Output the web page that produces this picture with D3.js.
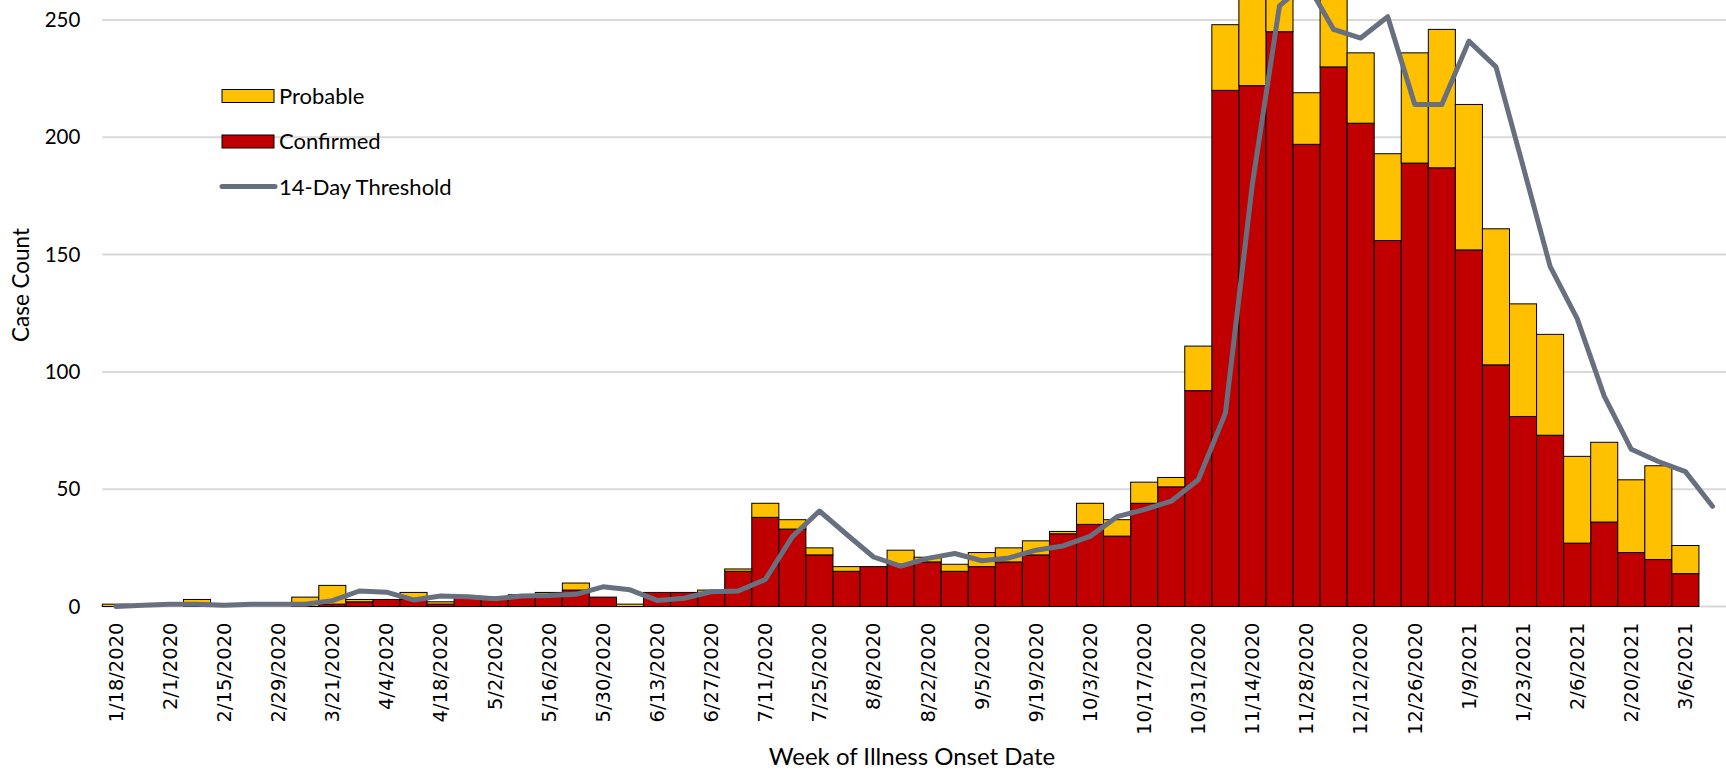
<!DOCTYPE html>
<html>
<head>
<meta charset="utf-8">
<script src="https://cdn.jsdelivr.net/npm/d3@7"></script>
<style>
  body { margin: 0; background: #fff; }
  .tick text { fill: #000; }
</style>
</head>
<body>
<div id="chart-container"></div>
<script>
/** DATA */
const weeks = ["1/18/2020", "1/25/2020", "2/1/2020", "2/8/2020", "2/15/2020", "2/22/2020", "2/29/2020", "3/14/2020",
  "3/21/2020", "3/28/2020", "4/4/2020", "4/11/2020", "4/18/2020", "4/25/2020", "5/2/2020", "5/9/2020",
  "5/16/2020", "5/23/2020", "5/30/2020", "6/6/2020", "6/13/2020", "6/20/2020", "6/27/2020", "7/4/2020",
  "7/11/2020", "7/18/2020", "7/25/2020", "8/1/2020", "8/8/2020", "8/15/2020", "8/22/2020", "8/29/2020",
  "9/5/2020", "9/12/2020", "9/19/2020", "9/26/2020", "10/3/2020", "10/10/2020", "10/17/2020", "10/24/2020",
  "10/31/2020", "11/7/2020", "11/14/2020", "11/21/2020", "11/28/2020", "12/5/2020", "12/12/2020", "12/19/2020",
  "12/26/2020", "1/2/2021", "1/9/2021", "1/16/2021", "1/23/2021", "1/30/2021", "2/6/2021", "2/13/2021",
  "2/20/2021", "2/27/2021", "3/6/2021", "3/13/2021"];

const confirmed = [0, 0, 0, 0, 0, 0, 0, 0, 1, 2, 3, 3, 1, 4, 4, 5, 5, 7, 4, 0, 6, 6, 6, 15, 38, 33, 22, 15, 17, 18,
  19, 15, 17, 19, 22, 31, 35, 30, 44, 51, 92, 220, 222, 245, 197, 230, 206, 156, 189, 187, 152, 103, 81, 73, 27,
  36, 23, 20, 14, null];

const probable = [1, 0, 0, 3, 0, 0, 0, 4, 8, 1, 0, 3, 1, 0, 0, 0, 1, 3, 0, 1, 0, 0, 1, 1, 6, 4, 3, 2, 0, 6,
  2, 3, 6, 6, 6, 1, 9, 7, 9, 4, 19, 28, 43, 30, 22, 32, 30, 37, 47, 59, 62, 58, 48, 43, 37,
  34, 31, 40, 12, null];

const threshold = [0, 0.5, 1, 1, 0.5, 1, 1, 1, 2.5, 6.6, 6.1, 2.8, 4.5, 4.2, 3.3, 4.5, 4.7, 5.2, 8.4, 7.1,
  2.6, 3.5, 6.3, 6.6, 11.5, 29.8, 40.7, 30.8, 21.1, 17.2, 20.5, 22.6, 19.5, 20.7, 24, 25.8, 29.9, 38.3, 41.3, 44.9,
  54, 82.3, 180.2, 256, 266, 246, 242.3, 251.4, 214, 214, 241, 230, 187.7, 145, 122.7, 89.7, 67, 61.8, 57.5, 42.7];

const yTicks = [0, 50, 100, 150, 200, 250];

/** CONSTANTS */
const width = 1726,
  height = 778,
  margin = { left: 102.3, right: 0 },
  y0 = 606.5,
  pxPerCase = 2.346,
  colors = { probable: "#FFC000", confirmed: "#C00000", line: "#687080", grid: "#d9d9d9" };

/** SCALES */
const xScale = d3.scaleBand()
  .domain(weeks)
  .range([margin.left, width - margin.right])
  .paddingInner(0)
  .paddingOuter(0);

const yScale = d3.scaleLinear()
  .domain([0, 300])
  .range([y0, y0 - 300 * pxPerCase]);

const svg = d3.select("#chart-container")
  .append("svg")
  .attr("width", width)
  .attr("height", height)
  .style("font-family", "Lato, 'Open Sans', sans-serif");

// gridlines
svg.append("g")
  .selectAll("line")
  .data(yTicks)
  .join("line")
  .attr("x1", margin.left)
  .attr("x2", width)
  .attr("y1", d => yScale(d))
  .attr("y2", d => yScale(d))
  .attr("stroke", colors.grid)
  .attr("stroke-width", 2);

// y axis labels
const yAxis = d3.axisLeft(yScale).tickValues(yTicks).tickSize(0).tickPadding(22);
svg.append("g")
  .attr("transform", `translate(${margin.left},0)`)
  .call(yAxis)
  .call(g => g.select(".domain").remove())
  .selectAll("text")
  .style("font-size", "20.5px")
  .style("font-family", "Lato, sans-serif");

// stacked bars
const rows = weeks.map((w, i) => ({ week: w, confirmed: confirmed[i], probable: probable[i] }))
  .filter(d => d.confirmed !== null);

const bars = svg.append("g");
bars.selectAll("rect.confirmed")
  .data(rows)
  .join("rect")
  .attr("class", "confirmed")
  .attr("x", d => xScale(d.week))
  .attr("width", xScale.bandwidth())
  .attr("y", d => yScale(d.confirmed))
  .attr("height", d => yScale(0) - yScale(d.confirmed))
  .attr("fill", colors.confirmed)
  .attr("stroke", d => d.confirmed > 0 ? "#000" : "none")
  .attr("stroke-width", 1);

bars.selectAll("rect.probable")
  .data(rows)
  .join("rect")
  .attr("class", "probable")
  .attr("x", d => xScale(d.week))
  .attr("width", xScale.bandwidth())
  .attr("y", d => yScale(d.confirmed + d.probable))
  .attr("height", d => yScale(d.confirmed) - yScale(d.confirmed + d.probable))
  .attr("fill", colors.probable)
  .attr("stroke", d => d.probable > 0 ? "#000" : "none")
  .attr("stroke-width", 1);

// 14-day threshold line
const line = d3.line()
  .x((d, i) => xScale(weeks[i]) + xScale.bandwidth() / 2)
  .y(d => yScale(d));

svg.append("path")
  .datum(threshold)
  .attr("d", line)
  .attr("fill", "none")
  .attr("stroke", colors.line)
  .attr("stroke-width", 5)
  .attr("stroke-linejoin", "round")
  .attr("stroke-linecap", "round");

// x axis labels (every other week)
const xAxis = d3.axisBottom(xScale)
  .tickValues(weeks.filter((d, i) => i % 2 === 0))
  .tickSize(0);

svg.append("g")
  .attr("transform", `translate(0,${y0})`)
  .call(xAxis)
  .call(g => g.select(".domain").remove())
  .selectAll("text")
  .attr("transform", "rotate(-90)")
  .attr("x", -16)
  .attr("y", 0)
  .attr("dy", "0.35em")
  .style("text-anchor", "end")
  .style("font-family", "'DejaVu Sans', sans-serif")
  .style("font-size", "19.5px");

// axis titles
svg.append("text")
  .attr("x", 912)
  .attr("y", 765)
  .attr("text-anchor", "middle")
  .style("font-size", "24px")
  .text("Week of Illness Onset Date");

svg.append("text")
  .attr("transform", "translate(29,285) rotate(-90)")
  .attr("text-anchor", "middle")
  .style("font-size", "22.5px")
  .text("Case Count");

// legend
const legend = svg.append("g").attr("transform", "translate(222,96)");
const items = [
  { label: "Probable", type: "rect", color: colors.probable },
  { label: "Confirmed", type: "rect", color: colors.confirmed },
  { label: "14-Day Threshold", type: "line", color: colors.line }
];
const li = legend.selectAll("g")
  .data(items)
  .join("g")
  .attr("transform", (d, i) => `translate(0,${i * 45.5})`);

li.filter(d => d.type === "rect")
  .append("rect")
  .attr("x", 0)
  .attr("y", -6.5)
  .attr("width", 52)
  .attr("height", 13)
  .attr("fill", d => d.color)
  .attr("stroke", "#000")
  .attr("stroke-width", 1);

li.filter(d => d.type === "line")
  .append("line")
  .attr("x1", 0)
  .attr("x2", 53)
  .attr("y1", -0.5)
  .attr("y2", -0.5)
  .attr("stroke", d => d.color)
  .attr("stroke-width", 5)
  .attr("stroke-linecap", "round");

li.append("text")
  .attr("x", 57)
  .attr("y", 0)
  .attr("dy", "0.35em")
  .style("font-size", "22px")
  .text(d => d.label);
</script>
</body>
</html>
